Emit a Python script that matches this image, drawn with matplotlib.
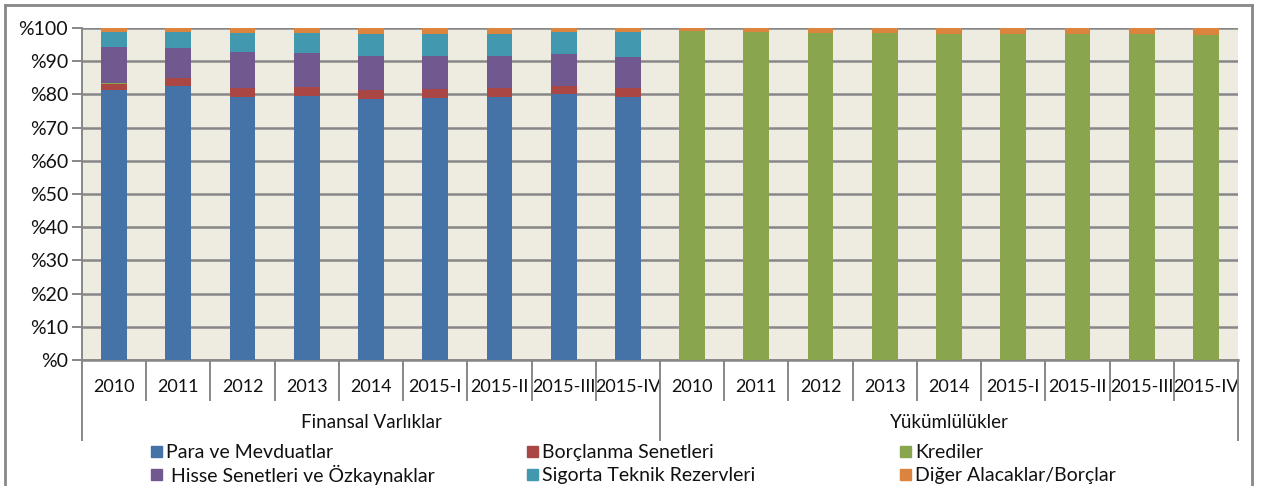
"""
Finansal Varliklar / Yukumlulukler - stacked % bar chart
"""

import matplotlib
matplotlib.use("Agg")
import matplotlib.pyplot as plt
import matplotlib.transforms as mtransforms
from matplotlib.patches import Rectangle
from matplotlib.lines import Line2D
import numpy as np

plt.rcParams['font.family'] = ['Lato', 'DejaVu Sans']

# =============================================================================
# DATA
# =============================================================================
periods = ['2010', '2011', '2012', '2013', '2014', '2015-I', '2015-II', '2015-III', '2015-IV']
groups = ['Finansal Varlıklar', 'Yükümlülükler']

para = [81.2, 82.5, 79.2, 79.4, 78.7, 78.9, 79.3, 80.0, 79.1,
        0, 0, 0, 0, 0, 0, 0, 0, 0]
borclanma = [2.0, 2.4, 2.6, 2.8, 2.6, 2.8, 2.5, 2.4, 2.7,
             0, 0, 0, 0, 0, 0, 0, 0, 0]
krediler = [0.2, 0, 0, 0, 0, 0, 0, 0, 0,
            99.0, 98.7, 98.4, 98.4, 98.3, 98.1, 98.1, 98.1, 97.8]
hisse = [10.9, 9.2, 11.1, 10.4, 10.4, 10.0, 9.9, 9.7, 9.6,
         0, 0, 0, 0, 0, 0, 0, 0, 0]
sigorta = [4.6, 4.6, 5.5, 5.8, 6.6, 6.6, 6.6, 6.6, 7.3,
           0, 0, 0, 0, 0, 0, 0, 0, 0]
diger = [1.1, 1.3, 1.6, 1.6, 1.7, 1.7, 1.7, 1.3, 1.3,
         1.0, 1.3, 1.6, 1.6, 1.7, 1.9, 1.9, 1.9, 2.2]

series = [
    ('Para ve Mevduatlar', para, '#4572A7'),
    ('Borçlanma Senetleri', borclanma, '#AA4643'),
    ('Krediler', krediler, '#89A54E'),
    (' Hisse Senetleri ve Özkaynaklar', hisse, '#71588F'),
    ('Sigorta Teknik Rezervleri', sigorta, '#4198AF'),
    ('Diğer Alacaklar/Borçlar', diger, '#DB843D'),
]

# =============================================================================
# PLOT
# =============================================================================
W, H = 1262, 486
FS = 14
TXT = '#111111'
fig = plt.figure(figsize=(W / 100, H / 100), dpi=100)
L, R, T, B = 82, 1238, 28, 360
ax = fig.add_axes([L / W, 1 - B / H, (R - L) / W, (B - T) / H])
ax.set_facecolor('#EEEBE1')

labels = periods * len(groups)
x = np.arange(len(labels))
bottom = np.zeros(len(labels))
for name, vals, col in series:
    vals = np.array(vals)
    ax.bar(x, vals, width=0.4, bottom=bottom, color=col, linewidth=0, zorder=3)
    bottom += vals

GRID = '#878787'
ax.set_xlim(-0.5, len(labels) - 0.5)
ax.set_ylim(0, 100)
ax.set_yticks(np.arange(0, 101, 10))
ax.set_yticklabels([f'%{v}' for v in range(0, 101, 10)], fontsize=FS, color=TXT)
ax.yaxis.grid(True, color=GRID, linewidth=1.8, zorder=1)
ax.tick_params(axis='y', length=7, width=1.4, color=GRID, pad=3)

ax.set_xticks(x)
ax.set_xticklabels(labels, fontsize=13, color=TXT)
ax.tick_params(axis='x', length=0, pad=14)

for s in ['top', 'right']:
    ax.spines[s].set_visible(False)
ax.spines['left'].set_color(GRID)
ax.spines['left'].set_linewidth(1.4)
ax.spines['bottom'].set_color(GRID)
ax.spines['bottom'].set_linewidth(1.8)

# multi-level category axis separators
trans = mtransforms.blended_transform_factory(ax.transData, ax.transAxes)
plot_h = B - T
n_per = len(periods)
for i in range(len(labels) + 1):
    xs = i - 0.5
    if i % n_per == 0:
        y1 = -(440 - B) / plot_h
    else:
        y1 = -(400 - B) / plot_h
    ax.add_line(Line2D([xs, xs], [0, y1], transform=trans, color=GRID,
                       linewidth=1.4, clip_on=False))

for g, name in enumerate(groups):
    cx = g * n_per + (n_per - 1) / 2
    ax.text(cx, -(422 - B) / plot_h, name, transform=trans, ha='center',
            va='center', fontsize=13.5, color=TXT)

# legend (3 columns x 2 rows)
leg_rows = [452, 475]
leg_cols = [151, 527, 900]
order = [(0, 0), (1, 0), (2, 0), (0, 1), (1, 1), (2, 1)]
for (name, vals, col), (c, r) in zip(series, order):
    mx = leg_cols[c]
    my = leg_rows[r]
    fig.patches.append(Rectangle((mx / W, 1 - (my + 5) / H), 11 / W, 11 / H,
                                 transform=fig.transFigure, color=col))
    fig.text((mx + 15) / W, 1 - my / H, name, ha='left', va='center',
             fontsize=FS, color=TXT)

# outer chart frame
FR = '#888888'
fig.add_artist(Line2D([5 / W, 5 / W], [0, 1 - 5 / H], color=FR, linewidth=2))
fig.add_artist(Line2D([5 / W, 1252 / W], [1 - 5 / H, 1 - 5 / H], color=FR, linewidth=2))
fig.add_artist(Line2D([1252 / W, 1252 / W], [0, 1 - 5 / H], color=FR, linewidth=2))

fig.savefig('out.png', dpi=100)
